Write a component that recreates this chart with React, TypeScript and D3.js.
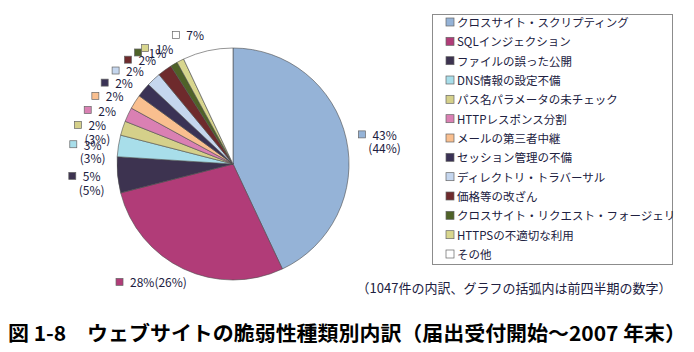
import { useEffect, useRef } from 'react'
import * as d3 from 'd3'

// vulnerability categories, in pie order (clockwise from 12 o'clock)
const categories = [
  'クロスサイト・スクリプティング',
  'SQLインジェクション',
  'ファイルの誤った公開',
  'DNS情報の設定不備',
  'パス名パラメータの未チェック',
  'HTTPレスポンス分割',
  'メールの第三者中継',
  'セッション管理の不備',
  'ディレクトリ・トラバーサル',
  '価格等の改ざん',
  'クロスサイト・リクエスト・フォージェリ',
  'HTTPSの不適切な利用',
  'その他',
]

// share of the 1047 reports (%)
const shares = [43, 28, 5, 3, 2, 2, 2, 2, 2, 2, 1, 1, 7]

// share in the previous quarter (%), shown in brackets
const previousShares: (number | null)[] = [44, 26, 5, 3, 3, null, null, null, null, null, null, null, null]

const colors = [
  '#95b3d7', '#b13c78', '#3d3350', '#a8deea', '#d5d08a', '#da80b3',
  '#f9bf8f', '#3a3255', '#c5d6ee', '#6e2a2c', '#4f6228', '#d8d68e', '#ffffff',
]

const note = '（1047件の内訳、グラフの括弧内は前四半期の数字）'
const title = '図 1-8　ウェブサイトの脆弱性種類別内訳（届出受付開始～2007 年末）'

export default function App() {
  const svgRef = useRef<SVGSVGElement>(null)

  useEffect(() => {
    if (!svgRef.current) return
    const svg = d3.select(svgRef.current)
    svg.selectAll('*').remove()

    const width = 694
    const height = 352
    const cx = 233
    const cy = 164
    const r = 116
    const font = '"Noto Sans CJK JP", "Noto Sans", sans-serif'
    const textColor = '#202040'

    svg.attr('width', width).attr('height', height)
    svg.append('rect').attr('width', width).attr('height', height).attr('fill', '#fff')

    // pie
    const pie = d3.pie<number>().sort(null).value(d => d)
    const arcs = pie(shares)
    const arc = d3.arc<d3.PieArcDatum<number>>().innerRadius(0).outerRadius(r)

    const g = svg.append('g').attr('transform', `translate(${cx},${cy})`)

    g.selectAll('path.slice')
      .data(arcs)
      .join('path')
      .attr('class', 'slice')
      .attr('d', arc)
      .attr('fill', (d, i) => colors[i])
      .attr('stroke', '#4d4d4d')
      .attr('stroke-width', 0.6)

    // data labels, placed just outside the pie
    const labelR = r + 13
    const lineH = 13.5
    const sq = 7
    const gap = 7

    arcs.forEach((a, i) => {
      let mid = (a.startAngle + a.endAngle) / 2
      // squeeze the crowded left-hand labels toward 9 o'clock, like Excel does
      if (mid > Math.PI) mid = 1.5 * Math.PI + (mid - 1.5 * Math.PI) * 0.93
      const sin = Math.sin(mid)
      const cos = Math.cos(mid)
      const prev = previousShares[i]
      const lines = prev == null
        ? [`${shares[i]}%`]
        : Math.abs(cos) > 0.8
          ? [`${shares[i]}%(${prev}%)`]
          : [`${shares[i]}%`, `(${prev}%)`]

      const lg = g.append('g')
      const texts = lines.map(t =>
        lg.append('text')
          .text(t)
          .attr('font-family', font)
          .attr('font-size', 12)
          .attr('fill', textColor)
          .attr('text-anchor', 'middle')
          .attr('dominant-baseline', 'central')
      )
      const widths = texts.map(t => (t.node() as SVGTextElement).getComputedTextLength())
      const tw = d3.max(widths) as number

      // local box, text block centred on x = 0
      const sqRight = -widths[0] / 2 - gap
      const boxLeft = Math.min(sqRight - sq, -tw / 2)
      const boxRight = tw / 2
      const w = boxRight - boxLeft

      // the first line sits against the pie, extra lines hang below it
      const ax = labelR * sin
      const ay = -labelR * cos
      const bcx = ax + sin * w / 2
      const firstY = ay - cos * lineH / 2
      const ox = bcx - (boxLeft + boxRight) / 2
      const oy = firstY - lineH / 2

      lg.attr('transform', `translate(${ox},${oy})`)
      texts.forEach((t, k) => t.attr('x', 0).attr('y', lineH * (k + 0.5)))
      lg.append('rect')
        .attr('x', sqRight - sq)
        .attr('y', lineH / 2 - sq / 2)
        .attr('width', sq)
        .attr('height', sq)
        .attr('fill', colors[i])
        .attr('stroke', '#666')
        .attr('stroke-width', 0.7)
    })

    // legend
    const legendX = 432
    const legendY = 14
    svg.append('rect')
      .attr('x', legendX + 0.5)
      .attr('y', legendY + 0.5)
      .attr('width', 240)
      .attr('height', 250)
      .attr('fill', '#fff')
      .attr('stroke', '#8c8c8c')
      .attr('stroke-width', 1)

    const yLegend = d3.scalePoint<string>().domain(categories).range([22, 254])

    const items = svg.append('g')
      .selectAll('g')
      .data(categories)
      .join('g')
      .attr('transform', d => `translate(446,${yLegend(d)})`)

    items.append('rect')
      .attr('x', 0)
      .attr('y', -4)
      .attr('width', 8)
      .attr('height', 8)
      .attr('fill', (d, i) => colors[i])
      .attr('stroke', '#666')
      .attr('stroke-width', 0.7)

    items.append('text')
      .attr('x', 11)
      .attr('y', 0)
      .attr('dominant-baseline', 'central')
      .attr('font-family', font)
      .attr('font-size', 11.5)
      .attr('fill', textColor)
      .text(d => d)

    // note under the legend
    svg.append('text')
      .attr('x', 514)
      .attr('y', 287)
      .attr('text-anchor', 'middle')
      .attr('dominant-baseline', 'central')
      .attr('font-family', font)
      .attr('font-size', 13)
      .attr('fill', textColor)
      .text(note)

    // figure caption
    svg.append('text')
      .attr('x', 8)
      .attr('y', 332)
      .attr('dominant-baseline', 'central')
      .attr('font-family', font)
      .attr('font-size', 20)
      .attr('font-weight', 'bold')
      .attr('fill', '#000')
      .attr('textLength', 678)
      .attr('lengthAdjust', 'spacingAndGlyphs')
      .text(title)
  }, [])

  return (
    <div style={{ position: 'absolute', left: 0, top: 0 }}>
      <svg ref={svgRef} width={694} height={352} style={{ display: 'block' }}></svg>
    </div>
  )
}
